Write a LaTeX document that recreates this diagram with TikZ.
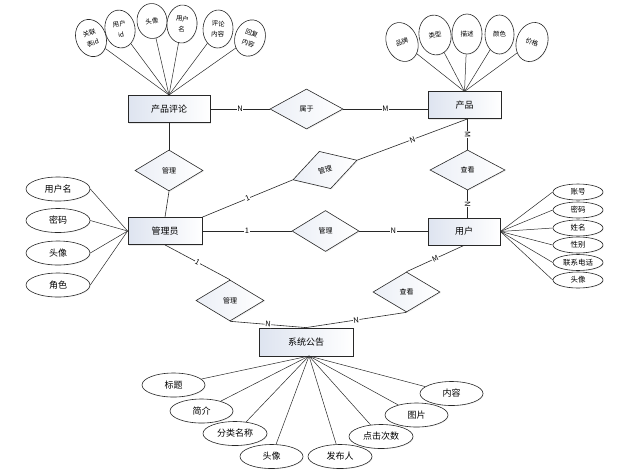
\documentclass[tikz,border=0pt]{standalone}
\usepackage{fontspec}
\setmainfont{Noto Sans CJK SC}
\usetikzlibrary{shapes.geometric,shadows}
\definecolor{entfill}{RGB}{222,228,240}
\definecolor{linec}{RGB}{40,40,40}
\begin{document}
\begin{tikzpicture}[x=1pt,y=-1pt,
  ent/.style={draw=linec, line width=0.8pt, minimum height=27pt, inner sep=0pt,
    left color=entfill, right color=white, font=\fontsize{9}{10}\selectfont,
    drop shadow={opacity=0.18,shadow xshift=1.2pt,shadow yshift=-1.2pt}},
  rel/.style={diamond, draw=linec, line width=0.6pt, inner sep=0pt, aspect=1.7,
    left color=entfill!60, right color=white, font=\fontsize{7}{8}\selectfont,
    drop shadow={opacity=0.12,shadow xshift=1pt,shadow yshift=-1pt}},
  attr/.style={ellipse, draw=linec, line width=0.6pt, inner sep=0pt, fill=white,
    drop shadow={opacity=0.1,shadow xshift=0.8pt,shadow yshift=-0.8pt}},
  vat/.style={attr, minimum width=30pt, minimum height=38pt, align=center,
    font=\fontsize{6.5}{10.5}\selectfont},
  hat/.style={attr, minimum width=64pt, minimum height=24pt, font=\fontsize{9}{10}\selectfont},
  sat/.style={attr, minimum width=50pt, minimum height=16pt, font=\fontsize{7.5}{8}\selectfont},
  lab/.style={fill=white, inner sep=0.6pt, font=\fontsize{7.5}{8}\selectfont, sloped},
  conn/.style={draw=linec, line width=0.6pt},
  aconn/.style={draw=linec, line width=0.5pt}
]
\useasboundingbox (0,0) rectangle (644,472);

% entities
\node[ent, minimum width=82pt] (pl) at (169,109) {产品评论};
\node[ent, minimum width=73pt] (pr) at (464.5,105) {产品};
\node[ent, minimum width=74pt] (mg) at (165,231) {管理员};
\node[ent, minimum width=72pt] (yh) at (464,231.5) {用户};
\node[ent, minimum width=94pt, minimum height=28pt] (gg) at (306,342) {系统公告};

% relationships
\node[rel, minimum width=73pt, minimum height=40pt] (sy) at (306.5,109) {属于};
\node[rel, minimum width=68pt, minimum height=41pt] (g1) at (169,170.5) {管理};
\node[rel, minimum width=67pt, minimum height=39pt, rotate=17] (g2) at (325,170) {管理};
\node[rel, minimum width=67pt, minimum height=41pt] (g3) at (325.5,231) {管理};
\node[rel, minimum width=75pt, minimum height=40pt] (c1) at (467.5,170) {查看};
\node[rel, minimum width=68pt, minimum height=41pt] (g4) at (230,300.5) {管理};
\node[rel, minimum width=67pt, minimum height=40pt] (c2) at (406.5,292) {查看};

% connectors
\draw[conn] (pl.east) -- node[lab]{N} (sy.west);
\draw[conn] (sy.east) -- node[lab]{M} (sy.east -| pr.west);
\draw[conn] (pl.south) -- (g1.north);
\draw[conn] (g1.south) -- (mg.north);
\draw[conn] (mg.north east) -- node[lab]{1} (g2.west);
\draw[conn] (g2.east) -- node[lab]{N} (c1 |- pr.south);
\draw[conn] (mg.east) -- node[lab]{1} (g3.west);
\draw[conn] (g3.east) -- node[lab]{N} (g3.east -| yh.west);
\draw[conn] (c1 |- pr.south) -- node[lab]{M} (c1.north);
\draw[conn] (c1.south) -- node[lab]{N} (c1 |- yh.north);
\draw[conn] (mg.south) -- node[lab]{1} (g4.north);
\draw[conn] (g4.south) -- node[lab]{N} (gg.north);
\draw[conn] (yh.south) -- node[lab]{M} (c2.north);
\draw[conn] (c2.south) -- node[lab]{N} (gg.north);

% attributes of 产品评论
\coordinate (plc) at (169,95);
\node[vat, rotate=20] (p1) at (91,38) {关联\\表id};
\node[vat, rotate=10] (p2) at (120,29) {用户\\id};
\node[vat, rotate=5, minimum height=35pt] (p3) at (152,21) {头像};
\node[vat, rotate=-5] (p4) at (182,24) {用户\\名};
\node[vat, rotate=-3] (p5) at (218,29) {评论\\内容};
\node[vat, rotate=-20, minimum height=37pt] (p6) at (250,38) {回复\\内容};
\foreach \a in {p1,p2,p3,p4,p5,p6} \draw[aconn] (\a) -- (plc);

% attributes of 产品
\coordinate (prc) at (464.5,91.5);
\node[vat, rotate=22, minimum width=31pt, minimum height=40pt] (q1) at (402,42) {品牌};
\node[vat, rotate=10, minimum width=32pt, minimum height=40pt] (q2) at (435,35) {类型};
\node[vat, minimum width=30pt, minimum height=40pt] (q3) at (467,34) {描述};
\node[vat, minimum width=29pt, minimum height=39pt] (q4) at (499.5,34.5) {颜色};
\node[vat, rotate=-20, minimum width=31pt, minimum height=40pt] (q5) at (532,42) {价格};
\foreach \a in {q1,q2,q3,q4,q5} \draw[aconn] (\a) -- (prc);

% attributes of 管理员
\node[hat] (m1) at (58,189) {用户名};
\node[hat] (m2) at (58,220.5) {密码};
\node[hat] (m3) at (58,253) {头像};
\node[hat] (m4) at (58,285) {角色};
\foreach \a in {m1,m2,m3,m4} \draw[aconn] (\a.east) -- (mg.west);

% attributes of 用户
\node[sat] (u1) at (578,192) {账号};
\node[sat] (u2) at (578,210) {密码};
\node[sat] (u3) at (578,228) {姓名};
\node[sat] (u4) at (578,245) {性别};
\node[sat] (u5) at (578,262.5) {联系电话};
\node[sat] (u6) at (578,280) {头像};
\foreach \a in {u1,u2,u3,u4,u5,u6} \draw[aconn] (\a.west) -- (yh.east);

% attributes of 系统公告
\coordinate (ggc) at (309,356);
\node[hat, minimum width=63pt] (n1) at (173.5,385) {标题};
\node[hat, minimum width=63pt] (n2) at (201.5,411) {简介};
\node[hat, minimum width=64pt] (n3) at (235,433.5) {分类名称};
\node[hat, minimum width=63pt] (n4) at (271.5,456.5) {头像};
\node[hat, minimum width=64pt] (n5) at (340,456.5) {发布人};
\node[hat, minimum width=64pt] (n6) at (381,436.5) {点击次数};
\node[hat, minimum width=63pt] (n7) at (416.5,415) {图片};
\node[hat, minimum width=63pt] (n8) at (451.5,393.5) {内容};
\foreach \a in {n1,n2,n3,n4,n5,n6,n7,n8} \draw[aconn] (\a) -- (ggc);
\end{tikzpicture}
\end{document}
